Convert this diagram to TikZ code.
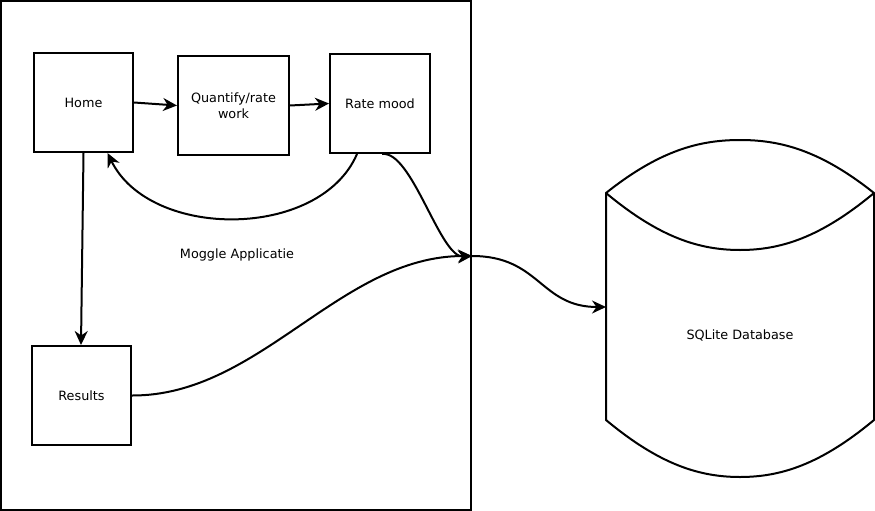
\documentclass[tikz,border=0pt]{standalone}
\usepackage{fontspec}
\setmainfont{DejaVu Sans}
\usetikzlibrary{arrows.meta}
\begin{document}
\begin{tikzpicture}[x=1pt,y=-1pt,
  every node/.style={font=\fontsize{12.8}{15.5}\selectfont},
  stepbox/.style={draw,line width=2pt,inner sep=0pt,align=center},
  conn/.style={line width=2pt,-{Stealth[length=14pt,width=13pt,inset=4.5pt]}}]
\useasboundingbox (0,0) rectangle (875,511);
\draw[line width=2pt] (1,1) rectangle (471,510);
\node[stepbox,minimum width=99pt,minimum height=99pt] (home) at (83.5,102.5) {Home};
\node[stepbox,minimum width=111pt,minimum height=99pt] (quant) at (233.5,105.5) {Quantify/rate\\work};
\node[stepbox,minimum width=100pt,minimum height=99pt] (rate) at (380,103.5) {Rate mood};
\node[stepbox,minimum width=99pt,minimum height=99pt] (results) at (81.5,395.5) {Results};
\node (app) at (237,255) {Moggle Applicatie};
% cylinder
\draw[line width=2pt] (606,193) .. controls (660,150) and (700,140) .. (740,140)
   .. controls (780,140) and (820,150) .. (874,193)
   -- (874,420) .. controls (820,465) and (780,477) .. (740,477)
   .. controls (700,477) and (660,465) .. (606,420) -- cycle;
\draw[line width=2pt] (606,193) .. controls (660,238) and (700,250) .. (740,250)
   .. controls (780,250) and (820,238) .. (874,193);
\node (db) at (740,335) {SQLite Database};
\coordinate (dbin) at (606,307);
\coordinate (junc) at (472,256);
% connectors
\draw[conn] (home.east) -- (quant.west);
\draw[conn] (quant.east) -- (rate.west);
\draw[conn] ([xshift=-23pt]rate.south) .. controls (320,240) and (150,240) .. ([xshift=24pt]home.south);
\draw[conn] ([xshift=2pt]rate.south) .. controls (412,150) and (440,258) .. (junc);
\draw[conn] (results.east) .. controls (260,396) and (340,256) .. (junc);
\draw[conn] (junc) .. controls (540,256) and (540,307) .. (dbin);
\draw[conn] (home.south) -- ([xshift=-0.5pt]results.north);
\end{tikzpicture}
\end{document}
